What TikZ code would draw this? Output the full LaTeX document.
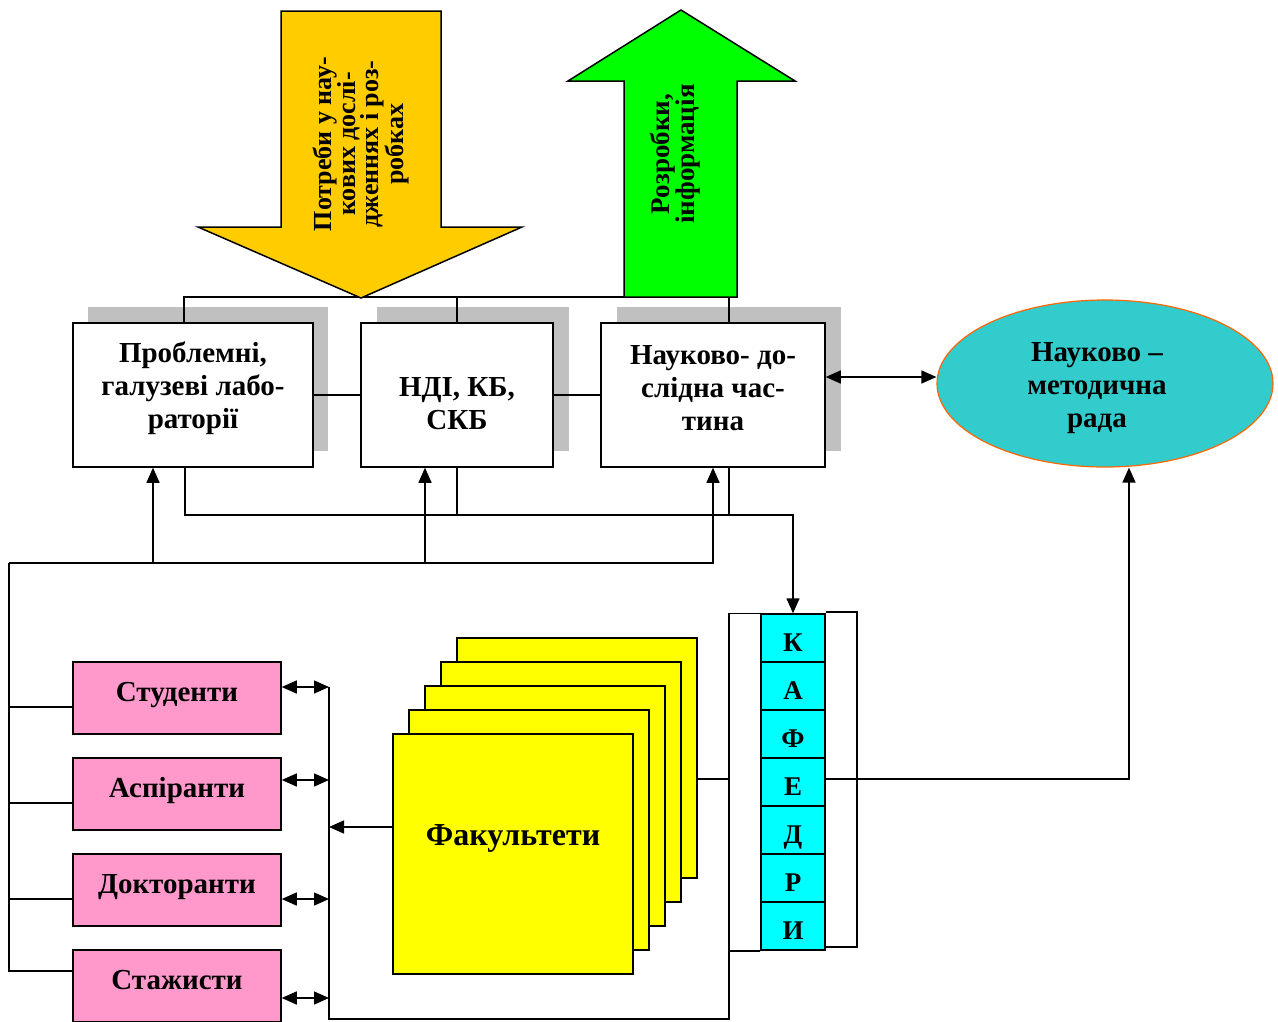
\documentclass[tikz,border=0pt]{standalone}
\usepackage{fontspec}
\setmainfont{Liberation Serif}
\usetikzlibrary{arrows.meta,shapes.geometric,calc}

\definecolor{needc}{HTML}{FFCC00}
\definecolor{devc}{HTML}{00FF00}
\definecolor{shadowc}{HTML}{C0C0C0}
\definecolor{radac}{HTML}{33CCCC}
\definecolor{radaline}{HTML}{FF6600}
\definecolor{pinkc}{HTML}{FF99CC}
\definecolor{facc}{HTML}{FFFF00}
\definecolor{kafc}{HTML}{00FFFF}

\begin{document}
\begin{tikzpicture}[x=1pt,y=-1pt,
  line width=1.5pt,
  >={Triangle[length=15pt,width=13pt]},
  bigfont/.style={font=\fontsize{29}{33}\selectfont\bfseries},
  unit/.style={draw,fill=white,minimum height=144pt,inner sep=0pt},
  lbl/.style={bigfont,align=center,inner sep=0pt},
  person/.style={draw,fill=pinkc,minimum width=208pt,minimum height=72pt,inner sep=0pt,
    bigfont,text height=20pt,text depth=14pt},
  faculty/.style={draw,fill=facc,minimum width=240pt,minimum height=240pt,inner sep=0pt},
  letter/.style={draw,fill=kafc,minimum width=64pt,minimum height=48pt,inner sep=0pt,
    font=\fontsize{27}{30}\selectfont\bfseries,text height=28pt,text depth=2pt},
  arrowtext/.style={rotate=90,align=center,inner sep=0pt,
    font=\fontsize{26}{23}\selectfont\bfseries}
]
\useasboundingbox (0,0) rectangle (1278,1021);

% grey shadows behind the three research units
\fill[shadowc] (88,307) rectangle (328,451);
\fill[shadowc] (377,307) rectangle (569,451);
\fill[shadowc] (617,307) rectangle (841,451);

% bus points
\coordinate (t1) at (184,297);
\coordinate (t2) at (457,297);
\coordinate (t3) at (729,297);

% research units
\node[unit,minimum width=240pt] (lab) at (193,395) {};
\node[unit,minimum width=192pt] (ndi) at (457,395) {};
\node[unit,minimum width=224pt] (nd)  at (713,395) {};
\node[lbl] (labtxt) at (193,388) {Проблемні,\\галузеві лабо-\\раторії};
\node[lbl] (nditxt) at (457,404) {НДІ, КБ,\\СКБ};
\node[lbl] (ndtxt)  at (713,388) {Науково- до-\\слідна час-\\тина};

% top bus joining the units
\draw (lab.north -| t1) -- (t1) -- (t3) -- (nd.north -| t3);
\draw (t2) -- (ndi.north);

% big block arrows
\draw[fill=needc] (281,11) -- (441,11) -- (441,227) -- (522,227) -- (361,298)
  -- (198,227) -- (281,227) -- cycle;
\node[arrowtext] (needs) at (361,144) {Потреби у нау-\\кових дослі-\\дженнях і роз-\\робках};
\draw[fill=devc] (624,297) -- (624,81) -- (568,81) -- (681,10) -- (795,81)
  -- (737,81) -- (737,297) -- cycle;
\node[arrowtext,font=\fontsize{27}{21}\selectfont\bfseries] (devs) at (675,154) {Розробки,\\інформація};

% links between units
\draw (lab.east) -- (ndi.west);
\draw (ndi.east) -- (nd.west);

% scientific-methodical council
\node[ellipse,draw=radaline,line width=1.2pt,fill=radac,minimum width=336pt,
  minimum height=167pt,inner sep=0pt] (rada) at (1105,383.5) {};
\node[lbl] (radatxt) at (1097,388) {Науково –\\методична\\рада};
\coordinate (m) at (0,377);
\draw[<->] (nd.east |- m) -- (rada.west |- m);

% departments column
\foreach \l [count=\i] in {К,А,Ф,Е,Д,Р,И}
  \node[letter] (kaf\i) at (793,{590+48*\i}) {\l};

% faculties stack, back to front
\foreach \i in {5,4,3,2,1}
  \node[faculty] (fac\i) at ({513+16*(\i-1)},{854-24*(\i-1)}) {};
\node[font=\fontsize{32}{36}\selectfont\bfseries,inner sep=0pt] (factxt) at (513,838) {Факультети};

% people
\node[person] (stud)  at (177,698) {Студенти};
\node[person] (asp)   at (177,794) {Аспіранти};
\node[person] (doct)  at (177,890) {Докторанти};
\node[person] (stazh) at (177,986) {Стажисти};

% outputs of the units to the departments
\coordinate (a1) at (185,515);
\coordinate (a2) at (457,515);
\coordinate (a3) at (729,515);
\coordinate (a4) at (793,515);
\draw[->] (lab.south -| a1) -- (a1) -- (a4) -- (kaf1.north);
\draw (ndi.south) -- (a2);
\draw (nd.south -| a3) -- (a3);

% inputs to the units from the people
\coordinate (b0) at (9,563);
\coordinate (b1) at (153,563);
\coordinate (b2) at (425,563);
\coordinate (b3) at (713,563);
\draw[->] (b0) -- (b3) -- (nd.south);
\draw[->] (b1) -- (lab.south -| b1);
\draw[->] (b2) -- (ndi.south -| b2);
\coordinate (l1) at (9,707);
\coordinate (l2) at (9,803);
\coordinate (l3) at (9,899);
\coordinate (l4) at (9,971);
\draw (b0) -- (l4) -- (l4 -| stazh.west);
\draw (l1) -- (l1 -| stud.west);
\draw (l2) -- (l2 -| asp.west);
\draw (l3) -- (l3 -| doct.west);

% bus between faculties and people
\coordinate (c1) at (329,687);
\coordinate (c2) at (329,780);
\coordinate (c3) at (329,899);
\coordinate (c4) at (329,998);
\coordinate (c5) at (329,1019);
\coordinate (cf) at (329,827);
\coordinate (kl) at (729,1019);
\draw[<->] (stud.east |- c1) -- (c1);
\draw[<->] (asp.east |- c2) -- (c2);
\draw[<->] (doct.east |- c3) -- (c3);
\draw[<->] (stazh.east |- c4) -- (c4);
\draw[->] (fac1.west |- cf) -- (cf);
\draw (c1) -- (c5) -- (kl) -- (kl |- kaf1.north) -- (kaf1.north west);
\draw (kaf7.south west) -- (kaf7.south west -| kl);
\coordinate (kf) at (729,779);
\draw (kf -| fac5.east) -- (kf);

% departments to the council
\coordinate (r1) at (857,612);
\coordinate (r2) at (857,947);
\draw (r1 -| kaf1.east) -- (r1) -- (r2) -- (r2 -| kaf7.east);
\coordinate (rr) at (1129,779);
\draw[->] (rr -| kaf4.east) -- (rr) -- (rada.south -| rr);
\end{tikzpicture}
\end{document}
